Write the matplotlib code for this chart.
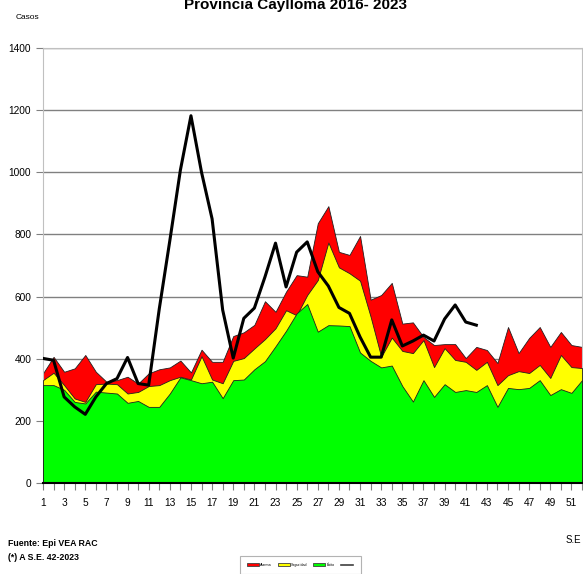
import numpy as np
import matplotlib
matplotlib.use("Agg")
import matplotlib.pyplot as plt
from matplotlib.patches import Patch
from matplotlib.lines import Line2D

# fonts: Arial-like look
plt.rcParams['font.family'] = ['Liberation Sans', 'DejaVu Sans']

# epidemiological weeks
semanas = list(range(1, 53))

# channel limits
exito = [315, 315, 300, 261, 256, 294, 291, 288, 258, 264, 245, 245, 288, 340, 331, 321,
         326, 273, 331, 333, 366, 392, 440, 490, 546, 576, 487, 508, 507, 505, 420, 393,
         372, 378, 312, 262, 331, 277, 318, 293, 299, 293, 315, 245, 306, 302, 306, 331,
         283, 302, 290, 331]
seguridad = [331, 355, 315, 272, 261, 318, 320, 318, 288, 293, 312, 315, 331, 342, 333, 408,
             333, 321, 393, 402, 433, 463, 498, 556, 540, 605, 653, 774, 694, 675, 651, 535,
             406, 468, 425, 418, 460, 373, 434, 396, 390, 364, 390, 315, 347, 360, 354, 380,
             338, 412, 373, 370]
alarma = [353, 406, 358, 369, 412, 358, 326, 331, 342, 320, 353, 366, 372, 394, 356, 429,
          390, 390, 473, 485, 509, 585, 551, 616, 669, 664, 836, 891, 744, 734, 795, 590,
          605, 644, 513, 517, 470, 444, 447, 447, 402, 438, 428, 386, 502, 418, 467, 502,
          438, 486, 444, 438]

# cases 2023, up to week 42
semanas_2023 = list(range(1, 43))
casos_2023 = [401, 395, 277, 245, 221, 277, 320, 336, 404, 320, 315, 560, 780, 1007, 1182,
              1000, 850, 557, 402, 530, 563, 663, 772, 631, 743, 776, 680, 634, 565, 546,
              470, 405, 405, 525, 441, 457, 476, 457, 528, 573, 518, 508]

fig = plt.figure(figsize=(5.83, 5.74), dpi=100)
ax = fig.add_axes([43 / 583, 1 - 483 / 574, 539 / 583, 435 / 574])

# overlapping areas, each from zero
ax.fill_between(semanas, 0, alarma, facecolor='#ff0000', edgecolor='#202020', linewidth=0.6, zorder=2)
ax.fill_between(semanas, 0, seguridad, facecolor='#ffff00', edgecolor='#202020', linewidth=0.6, zorder=3)
ax.fill_between(semanas, 0, exito, facecolor='#00ff00', edgecolor='#202020', linewidth=0.6, zorder=4)
ax.plot(semanas_2023, casos_2023, color='black', linewidth=2.2, zorder=5)

ax.set_xlim(1, 52)
ax.set_ylim(0, 1400)
ax.set_yticks(range(0, 1401, 200))
ax.yaxis.grid(True, color='#808080', linewidth=1.0)
ax.set_axisbelow(True)

ax.set_xticks(semanas)
ax.set_xticklabels([str(s) if s % 2 == 1 else '' for s in semanas])
ax.tick_params(axis='both', labelsize=7.3, color='#808080', length=5)
ax.tick_params(axis='x', pad=6)

for side in ['left', 'right', 'top']:
    ax.spines[side].set_color('#c0c0c0')
ax.spines['bottom'].set_color('black')
ax.spines['bottom'].set_linewidth(1.5)
ax.spines['bottom'].set_zorder(6)

# title, partly out of the canvas like the original
fig.text(296 / 583, 1 - 9 / 574, 'Provincia Caylloma 2016- 2023', ha='center', va='baseline',
         fontsize=11, fontweight='bold')
fig.text(16 / 583, 1 - 19 / 574, 'Casos', fontsize=6, va='baseline')
fig.text(566 / 583, 1 - 543 / 574, 'S.E', fontsize=7, va='baseline')
fig.text(8 / 583, 1 - 546 / 574, 'Fuente: Epi VEA RAC', fontsize=6.3, fontweight='bold', va='baseline')
fig.text(8 / 583, 1 - 560 / 574, '(*) A S.E. 42-2023', fontsize=6.3, fontweight='bold', va='baseline')

handles = [Patch(facecolor='#ff0000', edgecolor='#404040', linewidth=0.6),
           Patch(facecolor='#ffff00', edgecolor='#404040', linewidth=0.6),
           Patch(facecolor='#00ff00', edgecolor='#404040', linewidth=0.6),
           Line2D([], [], color='#404040', linewidth=1.2)]
leg = fig.legend(handles, ['Alarma', 'Seguridad', 'Éxito', ''],
                 loc='upper center', bbox_to_anchor=(300.5 / 583, 1 - 554 / 574), ncol=4,
                 fontsize=2.6, frameon=True, fancybox=False, edgecolor='#a0a0a0',
                 handlelength=3.3, handleheight=1.0, columnspacing=1.6, handletextpad=0.4,
                 borderpad=2.0)
leg.get_frame().set_linewidth(0.8)

fig.savefig('out.png', dpi=100)
